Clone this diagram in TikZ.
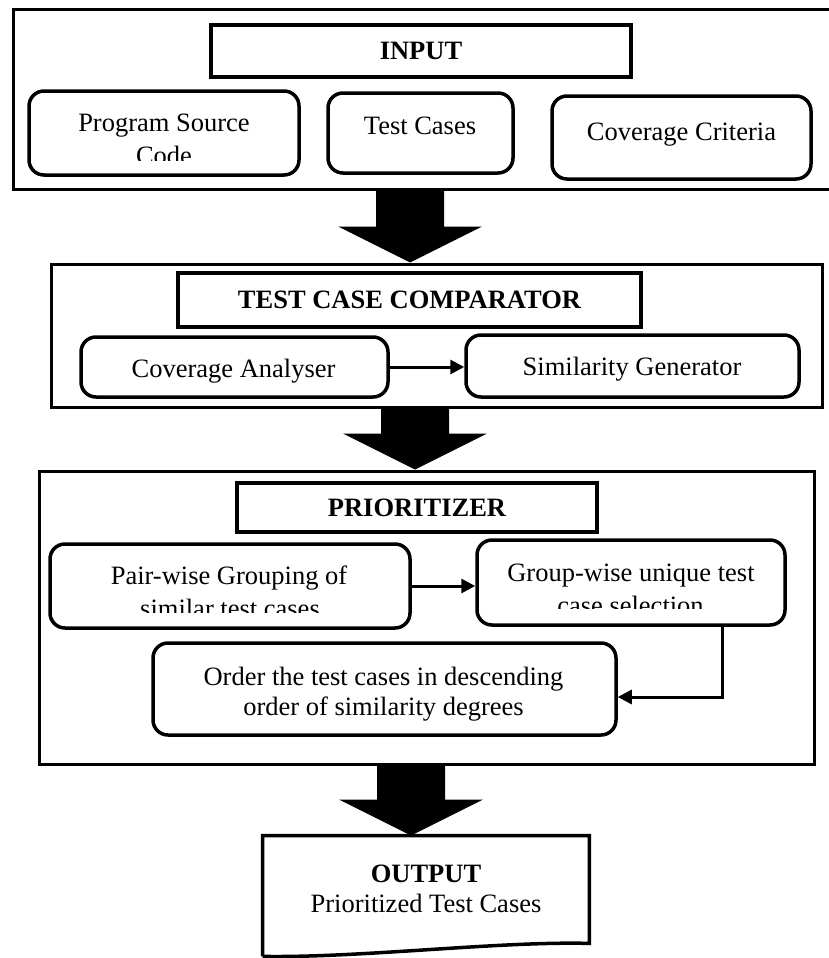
\documentclass[tikz,border=0pt]{standalone}
\usepackage{fontspec}
\setmainfont{Liberation Serif}
\usepackage{tikz}
\usetikzlibrary{calc}
\usetikzlibrary{arrows.meta}
\tikzstyle{frame}=[draw, rectangle, line width=3pt, inner sep=0pt]
\tikzstyle{heading}=[draw, rectangle, line width=4pt, inner sep=0pt,
                  font=\fontsize{26.5}{30}\selectfont\bfseries]
\tikzstyle{stage}=[draw, rectangle, rounded corners=15pt, line width=3.5pt,
                  inner sep=0pt]
\tikzstyle{words}=[inner sep=0pt, anchor=base, font=\fontsize{26.5}{30}\selectfont]
\tikzstyle{flow}=[line width=3pt, -{Triangle[length=14pt, width=14pt]}]
% block arrow between two frames: #1 = x, #2 = upper frame, #3 = lower frame
\newcommand{\fatarrow}[3]{%
  \fill let \p1=(#2.south), \p2=(#3.north) in
    (#1pt-34pt,\y1) -- (#1pt+34pt,\y1) -- (#1pt+34pt,\y2+36pt)
    -- (#1pt+72pt,\y2+36pt) -- (#1pt,\y2) -- (#1pt-72pt,\y2+36pt)
    -- (#1pt-34pt,\y2+36pt) -- cycle;}

\begin{document}
\begin{tikzpicture}[x=1pt, y=-1pt, auto, thick]
      \useasboundingbox (0,0) rectangle (828,958);
      % Place the three stage frames and their headings
      \foreach \place/\name/\w/\h in {{(426.5,99.5)/inp/827/179}, {(436.5,335.5)/cmp/771/143}, {(426.5,617.5)/pri/775/293}}
        \node[frame, minimum width=\w pt, minimum height=\h pt] (\name) at \place {};
      \node[heading, minimum width=420pt, minimum height=52pt] (inph) at (421,51) {INPUT};
      \node[heading, minimum width=463pt, minimum height=54pt] (cmph) at (409.5,300) {TEST CASE COMPARATOR};
      \node[heading, minimum width=360pt, minimum height=49pt] (prih) at (417,507.5) {PRIORITIZER};
      %
      % Place the rounded boxes and their texts
      \foreach \place/\name/\w/\h in {{(164,133)/psc/270/84}, {(420.5,133)/tc/185/80}, {(681.5,137.5)/cc/259/83}, {(234.5,367)/ca/307/60}, {(632.5,366)/sg/333/62}, {(230,586)/pg/360/84}, {(631,582.5)/gu/308/85}, {(384.5,689)/od/463/92}}
        \node[stage, minimum width=\w pt, minimum height=\h pt] (\name) at \place {};
      \foreach \place/\name/\txt in {{(164,131)/psc1/Program Source}, {(420,134)/tc1/Test Cases}, {(681.5,140)/cc1/Coverage Criteria}, {(233.5,377)/ca1/Coverage Analyser}, {(632,375)/sg1/Similarity Generator}, {(229,584)/pg1/Pair-wise Grouping of}, {(631,581)/gu1/Group-wise unique test}, {(383.5,685)/od1/Order the test cases in descending}, {(383.5,715)/od2/order of similarity degrees}}
        \node[words] (\name) at \place {\txt};
      %
      % second lines cut off by the text area
      \begin{scope}
        \clip (psc.north west) rectangle (psc.east |- 0,160);
        \node[words] (psc2) at (164,164.5) {Code};
      \end{scope}
      \begin{scope}
        \clip (pg.north west) rectangle (pg.east |- 0,612);
        \node[words] (pg2) at (230,617) {similar test cases};
      \end{scope}
      \begin{scope}
        \clip (gu.north west) rectangle (gu.east |- 0,608);
        \node[words] (gu2) at (630.5,614) {case selection};
      \end{scope}
      %
      % Output document
      \node[inner sep=0pt, minimum width=326pt, minimum height=120pt] (out) at (426,896) {};
      \draw[line width=3.5pt] (out.south west) -- (out.north west) -- (out.north east)
        -- ([yshift=13pt]out.south east) .. controls (500,941) and (360,958) .. (out.south west);
      \node[words, font=\fontsize{26.5}{30}\selectfont\bfseries] (outh) at (426,882) {OUTPUT};
      \node[words] (outt) at (426,912) {Prioritized Test Cases};
      %
      % Connect the boxes
      \draw[flow] (ca.east) -- (ca.east -| sg.west);
      \draw[flow] (pg.east) -- (pg.east -| gu.west);
      \draw[flow] ([xshift=91pt]gu.south) |- ([yshift=-8pt]od.east);
      \fatarrow{410}{inp}{cmp}
      \fatarrow{415}{cmp}{pri}
      \fatarrow{411}{pri}{out}
    \end{tikzpicture}
\end{document}
